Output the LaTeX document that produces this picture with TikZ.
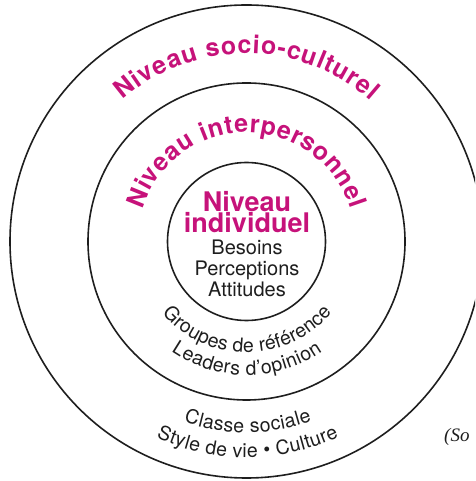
\documentclass[tikz,border=0pt]{standalone}
\usepackage{fontspec}
\setmainfont{TeX Gyre Heros}
\newfontfamily\srcfont{Liberation Serif}
\usetikzlibrary{decorations.text}
\definecolor{mag}{RGB}{198,18,122}
\definecolor{ink}{RGB}{30,30,30}
\begin{document}
\begin{tikzpicture}[x=1pt,y=1pt,
  ring/.style={draw=ink, line width=1.6pt, circle, inner sep=0pt},
  titlefont/.style={font=\fontsize{27}{27}\selectfont\bfseries, text=mag},
  bodyfont/.style={font=\fontsize{20}{20}\selectfont, text=ink}
]
\useasboundingbox (0,0) rectangle (475,481);
\clip (0,0) rectangle (475,481);
\coordinate (c) at (246.5,239.5);
% rings
\node[ring, minimum size=158pt] (innerring) at (c) {};
\node[ring, minimum size=317pt] (midring) at (c) {};
\node[ring, minimum size=473pt] (outerring) at (c) {};
% outer title
\path[decorate, decoration={text along path, text align={fit to path},
  text={|\fontsize{25}{25}\selectfont\bfseries\color{mag}|Niveau socio-culturel}}]
  ([shift={(131.2:188pt)}]c) arc[start angle=131.2, end angle=48.6, radius=188pt];
% middle title
\path[decorate, decoration={text along path, text align={fit to path},
  text={|\fontsize{25}{25}\selectfont\bfseries\color{mag}|Niveau interpersonnel}}]
  ([shift={(162.8:109pt)}]c) arc[start angle=162.8, end angle=17.3, radius=109pt];
% inner texts
\node[titlefont, anchor=base] (t1) at (247,269) {Niveau};
\node[titlefont, anchor=base] (t2) at (247,248) {individuel};
\node[bodyfont, anchor=base] (b1) at (247,226) {Besoins};
\node[bodyfont, anchor=base] (b2) at (247,205) {Perceptions};
\node[bodyfont, anchor=base] (b3) at (247,184) {Attitudes};
% lower arc texts
\path[decorate, decoration={text along path, text align={fit to path},
  text={|\fontsize{19.5}{19.5}\selectfont\color{ink}|Groupes de référence}}]
  ([shift={(220.4:111pt)}]c) arc[start angle=220.4, end angle=320.2, radius=111pt];
\path[decorate, decoration={text along path, text align={fit to path},
  text={|\fontsize{19.5}{19.5}\selectfont\color{ink}|Leaders d’opinion}}]
  ([shift={(235.7:133.5pt)}]c) arc[start angle=235.7, end angle=304.6, radius=133.5pt];
\path[decorate, decoration={text along path, text align={fit to path},
  text={|\fontsize{19.5}{19.5}\selectfont\color{ink}|Classe sociale}}]
  ([shift={(250.8:191pt)}]c) arc[start angle=250.8, end angle=290, radius=191pt];
\path[decorate, decoration={text along path, text align={fit to path},
  text={|\fontsize{19.5}{19.5}\selectfont\color{ink}|Style de vie • Culture}}]
  ([shift={(245.3:216pt)}]c) arc[start angle=245.3, end angle=295.3, radius=216pt];
% source fragment
\node[anchor=base west, font=\srcfont\itshape\fontsize{19}{19}\selectfont, text=ink, inner sep=0pt] (src) at (444,39) {(So};
\end{tikzpicture}
\end{document}
